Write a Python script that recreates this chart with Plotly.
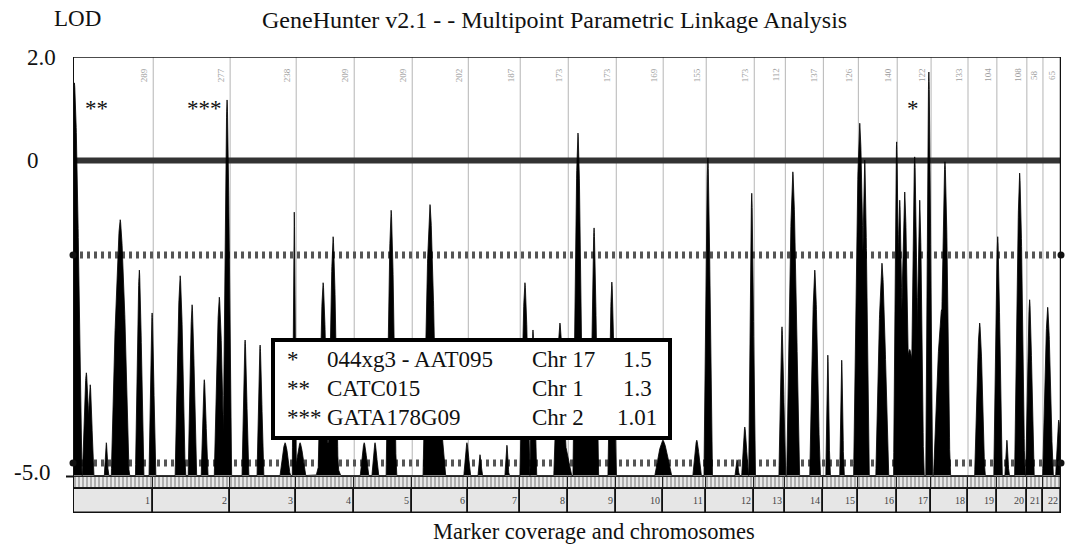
import numpy as np
import plotly.graph_objects as go

# ---------------- data ----------------
chrom_labels = [str(i) for i in range(1, 23)]
chrom_len_cm = [289, 277, 238, 209, 209, 202, 187, 173, 173, 169, 155,
                173, 112, 137, 126, 140, 122, 133, 104, 108, 58, 65]

# LOD peaks (genome position in cM, peak LOD, half width at base in cM)
peak_cm = [5, 48, 62, 120, 156, 170, 239, 285,
           386, 429, 473, 527, 555,
           620, 674, 764, 797,
           818, 901, 919, 937,
           1049, 1088, 1146,
           1286, 1315, 1419,
           1466, 1563,
           1628, 1657, 1754, 1769,
           1819, 1855, 1877, 1941,
           2125, 2247, 2287,
           2392, 2420, 2445,
           2554,
           2593, 2672, 2719, 2769,
           2834, 2852, 2914, 2967, 2978, 2996, 3014, 3032, 3050, 3083,
           3129, 3141,
           3266, 3331, 3364,
           3410, 3446, 3511, 3551]
peak_lod = [1.50, -3.37, -3.56, -4.48, -2.37, -0.94, -1.74, -2.42,
            -1.83, -2.29, -3.48, -2.17, 1.17,
            -2.85, -2.93, -4.48, -0.82,
            -4.48, -1.94, -4.48, -1.21,
            -4.48, -4.48, -0.79,
            -0.70, -3.80, -4.48,
            -4.67, -4.52,
            -1.94, -2.69, -2.58, -4.48,
            0.53, -3.80, -1.07, -1.93,
            -4.44, -4.44, 0.05,
            -4.75, -4.23, -0.52,
            -2.64,
            -0.18, -1.74, -3.09, -3.17,
            0.72, 0.01, -1.63, 0.36, -0.63, -0.50, -3.00, 0.07, -0.63, 1.71,
            -2.37, -0.02,
            -2.58, -1.21, -4.44,
            -0.20, -2.21, -2.33, -4.12]
peak_halfwidth_cm = [25, 14, 11, 7, 18, 32, 14, 11,
                     18, 14, 11, 18, 14,
                     11, 11, 18, 7,
                     18, 18, 43, 18,
                     14, 11, 18,
                     25, 25, 11,
                     7, 7,
                     18, 11, 22, 25,
                     18, 36, 14, 14,
                     29, 14, 14,
                     7, 11, 11,
                     11,
                     22, 18, 7, 7,
                     22, 14, 22, 11, 14, 18, 43, 14, 14, 11,
                     29, 18,
                     18, 14, 7,
                     18, 14, 18, 11]

y_tick_vals = [2.0, 0.0, -5.0]
y_tick_text = ["2.0", "0", "-5.0"]
threshold_lod = [-1.5, -4.8]

legend_marks = ["*", "**", "***"]
legend_markers = ["044xg3 - AAT095", "CATC015", "GATA178G09"]
legend_chr = ["Chr 17", "Chr 1", "Chr 2"]
legend_lod = ["1.5", "1.3", "1.01"]
star_peak_cm = [3083, 5, 555]

title_text = "GeneHunter v2.1 - - Multipoint Parametric Linkage Analysis"
y_title = "LOD"
x_title = "Marker coverage and chromosomes"

# ---------------- layout constants ----------------
W, H = 1081, 546
ML, MR, MT, MB = 73, 20, 57, 28
PW, PH = W - ML - MR, H - MT - MB
PX_PER_UNIT = 51.75
Y_TOP = 2.0
Y_BOT = Y_TOP - PH / PX_PER_UNIT
NEG_SCALE = 63 / 51.75      # the negative part of the LOD axis is drawn stretched
FONT = "Liberation Serif, Times New Roman, serif"
FS = 23
PEAK_SHAPE = 1.5


def u(lod):
    return lod if lod >= 0 else lod * NEG_SCALE


def py(y_px):
    return Y_TOP - (y_px - MT) / PX_PER_UNIT


def paper_x(px):
    return (px - ML) / PW


def paper_y(px):
    return (H - MB - px) / PH


total = float(sum(chrom_len_cm))
cum = np.concatenate([[0], np.cumsum(chrom_len_cm)]).astype(float)
centers = (cum[:-1] + cum[1:]) / 2

# ---------------- LOD curve ----------------
x_grid = np.arange(0, total + 0.25, 0.5)
lod = np.full_like(x_grid, -5.0)
for c, h, w in zip(peak_cm, peak_lod, peak_halfwidth_cm):
    d = np.abs(x_grid - c) / w
    prof = np.where(d < 1, h - (h + 5) * np.power(np.minimum(d, 1), PEAK_SHAPE), -5.0)
    lod = np.maximum(lod, prof)
u_curve = np.where(lod >= 0, lod, lod * NEG_SCALE)
base_u = u(-5.0)
xs = np.concatenate([[0], x_grid, [total]])
ys = np.concatenate([[base_u], u_curve, [base_u]])

fig = go.Figure()
fig.add_trace(go.Scatter(x=xs, y=ys, mode="lines", fill="toself",
                         fillcolor="black", line=dict(color="black", width=0.8),
                         hoverinfo="skip", showlegend=False))

# marker coverage strip and chromosome boxes
strip_top, strip_bot = py(476.5), py(488)
box_top, box_bot = py(488.5), py(513)
fig.add_trace(go.Bar(x=centers, y=[strip_top - strip_bot] * 22, base=strip_bot,
                     width=chrom_len_cm,
                     marker=dict(color="#e4e4e4",
                                 pattern=dict(shape="|", fgcolor="#6a6a6a", bgcolor="#e8e8e8",
                                              size=4, solidity=0.45),
                                 line=dict(color="#222", width=1)),
                     hoverinfo="skip", showlegend=False))
fig.add_trace(go.Bar(x=centers, y=[box_top - box_bot] * 22, base=box_bot,
                     width=chrom_len_cm,
                     marker=dict(color="#e6e6e6", line=dict(color="#111", width=1.6)),
                     hoverinfo="skip", showlegend=False))

shapes = []
# chromosome boundaries
for b in cum[1:-1]:
    shapes.append(dict(type="line", xref="x", yref="y", x0=b, x1=b, y0=base_u, y1=Y_TOP,
                       line=dict(color="#b5b5b5", width=1), layer="below"))
# zero line
shapes.append(dict(type="line", xref="x", yref="y", x0=0, x1=total, y0=0, y1=0,
                   line=dict(color="#333333", width=6), layer="below"))
# dotted threshold lines
for t in threshold_lod:
    shapes.append(dict(type="line", xref="x", yref="y", x0=0, x1=total, y0=u(t), y1=u(t),
                       line=dict(color="#555555", width=7, dash="3px,4px"), layer="below"))
# frame
shapes.append(dict(type="line", xref="x", yref="y", x0=0, x1=total, y0=Y_TOP, y1=Y_TOP,
                   line=dict(color="#111", width=1.6)))
shapes.append(dict(type="line", xref="x", yref="y", x0=0, x1=0, y0=box_bot, y1=Y_TOP,
                   line=dict(color="#111", width=2)))
shapes.append(dict(type="line", xref="x", yref="y", x0=total, x1=total, y0=box_bot, y1=Y_TOP,
                   line=dict(color="#111", width=2.5)))
shapes.append(dict(type="line", xref="paper", yref="y", x0=paper_x(66), x1=paper_x(73),
                   y0=strip_top, y1=strip_top, line=dict(color="#111", width=2)))
# legend box
shapes.append(dict(type="rect", xref="paper", yref="paper",
                   x0=paper_x(273), x1=paper_x(670), y0=paper_y(438), y1=paper_y(340),
                   line=dict(color="black", width=4), fillcolor="white", layer="above"))

# dots at the ends of the dotted lines
dot_x, dot_y = [], []
for t in threshold_lod:
    dot_x += [0, total]
    dot_y += [u(t), u(t)]
fig.add_trace(go.Scatter(x=dot_x, y=dot_y, mode="markers", cliponaxis=False,
                         marker=dict(color="#111", size=7, symbol="circle"),
                         hoverinfo="skip", showlegend=False))

ann = []
# y tick labels
for v, t in zip(y_tick_vals, y_tick_text):
    xpx = 25 - (13 if t.startswith("-") else 0)
    ann.append(dict(x=paper_x(xpx), xref="paper", y=u(v) if v >= 0 else u(v) + 0.05, yref="y",
                    text=t, showarrow=False, xanchor="left", yanchor="middle",
                    font=dict(family=FONT, size=FS, color="#111")))
# titles
ann.append(dict(x=paper_x(77), y=paper_y(19), xref="paper", yref="paper", text=y_title,
                showarrow=False, xanchor="center", yanchor="middle",
                font=dict(family=FONT, size=FS, color="#111")))
ann.append(dict(x=paper_x(554), y=paper_y(20), xref="paper", yref="paper", text=title_text,
                showarrow=False, xanchor="center", yanchor="middle",
                font=dict(family=FONT, size=24, color="#111")))
ann.append(dict(x=paper_x(594), y=paper_y(531), xref="paper", yref="paper", text=x_title,
                showarrow=False, xanchor="center", yanchor="middle",
                font=dict(family=FONT, size=22.5, color="#111")))
# chromosome numbers and faint rotated lengths at the top
for i, lab in enumerate(chrom_labels):
    ann.append(dict(x=cum[i + 1], y=(box_top + box_bot) / 2, xref="x", yref="y", text=lab,
                    showarrow=False, xanchor="right", yanchor="middle", xshift=-1,
                    font=dict(family=FONT, size=10, color="#444")))
    ann.append(dict(x=cum[i + 1], y=py(75), xref="x", yref="y", text=str(chrom_len_cm[i]),
                    showarrow=False, textangle=-90, xanchor="center", yanchor="middle",
                    xshift=-9, font=dict(family=FONT, size=9, color="#a0a0a0")))
# stars over the top peaks
star_shift = [-16, 22, -23]
for m, c, s in zip(legend_marks, star_peak_cm, star_shift):
    ann.append(dict(x=c, y=py(108), xref="x", yref="y", text=m, showarrow=False,
                    xanchor="center", yanchor="middle", xshift=s,
                    font=dict(family=FONT, size=FS, color="#111")))
# legend text
row_y = [359, 388, 417]
for ry, m, name, ch, v in zip(row_y, legend_marks, legend_markers, legend_chr, legend_lod):
    for txt, xp, anc in [(m, 285, "left"), (name, 325, "left"), (ch, 530, "left"), (v, 637, "center")]:
        ann.append(dict(x=paper_x(xp), y=paper_y(ry), xref="paper", yref="paper", text=txt,
                        showarrow=False, xanchor=anc, yanchor="middle",
                        font=dict(family=FONT, size=FS, color="#111")))

fig.update_layout(
    width=W, height=H,
    margin=dict(l=ML, r=MR, t=MT, b=MB),
    paper_bgcolor="white", plot_bgcolor="white",
    barmode="overlay", bargap=0,
    xaxis=dict(range=[0, total], visible=False, fixedrange=True),
    yaxis=dict(range=[Y_BOT, Y_TOP], visible=False, fixedrange=True),
    shapes=shapes, annotations=ann, showlegend=False,
)

fig.write_html("out.html")
